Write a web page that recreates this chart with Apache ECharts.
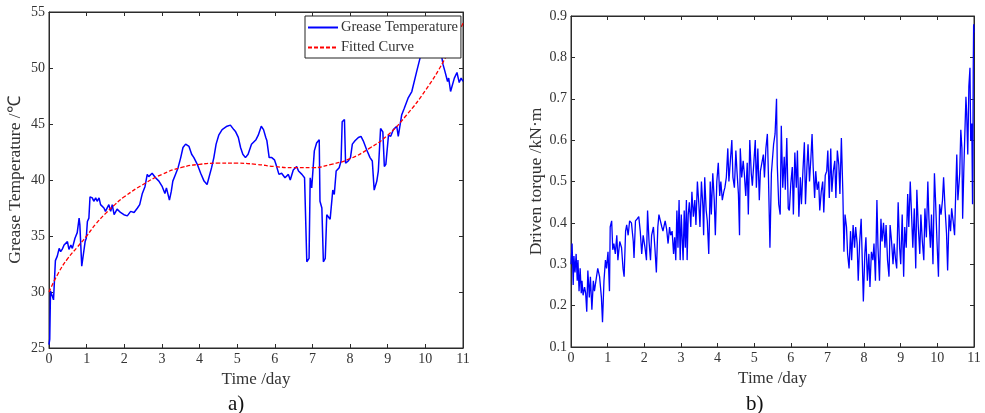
<!DOCTYPE html>
<html>
<head>
<meta charset="utf-8">
<script src="https://cdn.jsdelivr.net/npm/echarts@6/dist/echarts.min.js"></script>
<style>
  html, body { margin: 0; padding: 0; background: #fff; }
  #main { width: 985px; height: 413px; }
</style>
</head>
<body>
<div id="main"></div>
<script>
// a) grease temperature (day, ℃)
var tempDays = [0.00,0.02,0.04,0.09,0.12,0.17,0.22,0.27,0.31,0.35,0.40,0.44,0.49,0.53,0.58,0.62,0.69,0.75,0.80,0.82,0.87,0.90,0.96,0.99,
  1.02,1.06,1.09,1.15,1.19,1.24,1.28,1.33,1.37,1.46,1.50,1.59,1.64,1.68,1.73,1.81,1.90,1.99,2.08,2.17,2.26,2.35,2.41,2.48,2.55,2.61,2.65,2.74,2.83,2.92,
  3.01,3.08,3.12,3.20,3.25,3.29,3.36,3.43,3.50,3.56,3.63,3.72,3.79,3.85,3.94,4.03,4.12,4.20,4.25,4.32,4.38,4.44,4.51,4.60,4.73,4.82,4.91,4.96,
  5.03,5.09,5.15,5.22,5.29,5.38,5.44,5.50,5.56,5.64,5.70,5.76,5.79,5.85,5.92,5.99,6.03,6.11,6.18,6.27,6.36,6.41,6.49,6.58,6.63,6.72,6.79,6.82,6.85,6.91,6.94,6.98,
  7.05,7.11,7.18,7.20,7.25,7.29,7.34,7.38,7.47,7.54,7.58,7.63,7.71,7.76,7.79,7.85,7.88,7.95,8.01,8.06,8.13,8.22,8.29,8.35,8.44,8.53,8.59,8.64,8.71,8.75,8.81,8.87,8.91,8.95,
  9.02,9.08,9.15,9.24,9.28,9.37,9.44,9.54,9.64,9.77,9.86,9.95,10.10,10.25,10.38,10.43,10.47,10.52,10.59,10.62,10.67,10.70,10.77,10.84,10.90,10.95,11.00];
var tempValues = [25.3,25.8,30.1,30.0,29.3,32.8,33.2,33.9,33.6,33.8,34.2,34.1,34.5,33.8,34.2,33.9,34.8,35.3,36.6,36.0,32.3,32.4,34.5,34.8,
  36.3,36.6,38.5,38.4,38.1,38.4,38.1,38.4,37.8,37.5,37.2,37.8,37.2,37.8,36.9,37.4,37.1,36.9,36.8,37.2,37.1,37.5,37.8,38.8,39.4,40.5,40.3,40.6,40.2,39.9,
  39.4,38.8,39.3,38.2,39.0,39.9,40.5,41.1,42.0,42.9,43.2,43.0,42.3,42.0,41.4,40.6,39.9,39.6,39.7,41.1,42.0,43.2,44.0,44.5,44.8,44.9,44.5,44.3,
  43.8,42.9,42.3,42.0,42.3,43.2,43.4,43.6,44.0,44.8,44.5,43.8,43.5,42.0,42.0,41.8,41.4,40.5,40.6,40.2,40.5,40.0,40.9,41.2,40.8,40.5,40.2,40.3,32.7,33.0,40.2,39.3,
  42.6,43.3,43.6,38.1,37.5,32.7,33.0,36.9,36.5,39.1,38.7,40.8,41.1,41.7,45.2,45.4,41.5,41.7,42.0,43.2,43.5,43.8,43.9,43.5,42.7,42.0,41.7,39.1,39.9,40.8,44.6,44.3,41.2,41.4,
  44.0,43.9,44.5,44.8,43.9,45.8,46.4,47.3,47.9,49.7,50.9,51.8,52.4,52.8,52.0,51.1,50.3,49.7,48.8,49.1,47.9,47.8,49.1,49.6,48.7,49.1,48.8];

// a) fitted curve
var fitDays = [0,0.25,0.5,0.75,1,1.25,1.5,1.75,2,2.5,3,3.5,4,4.5,5,5.5,6,6.5,7,7.5,8,8.5,9,9.5,10,10.5,11];
var fitValues = [30.0,31.7,33.0,34.0,35.0,36.1,37.0,37.8,38.5,39.6,40.5,41.1,41.4,41.5,41.5,41.4,41.2,41.1,41.1,41.4,41.9,42.8,44.0,45.8,48.0,50.7,54.0];

// b) driven torque (day, kN·m)
var torqueDays = [0.00,0.03,0.06,0.08,0.11,0.14,0.17,0.19,0.22,0.25,0.28,0.30,0.33,0.37,0.40,0.43,0.46,0.50,0.53,0.57,0.61,0.64,0.68,0.73,0.78,0.83,0.86,0.90,0.94,0.97,
  1.01,1.05,1.07,1.11,1.14,1.17,1.21,1.25,1.28,1.33,1.38,1.42,1.45,1.49,1.52,1.56,1.60,1.65,1.70,1.72,1.76,1.81,1.85,1.89,1.93,1.97,
  2.02,2.06,2.09,2.13,2.17,2.20,2.25,2.29,2.33,2.37,2.40,2.44,2.48,2.51,2.57,2.61,2.65,2.69,2.72,2.76,2.80,2.83,2.86,2.89,2.92,2.95,2.98,
  3.01,3.04,3.06,3.09,3.12,3.15,3.17,3.20,3.23,3.27,3.30,3.34,3.38,3.41,3.45,3.49,3.52,3.56,3.60,3.62,3.65,3.69,3.72,3.76,3.80,3.83,3.87,3.91,3.94,3.98,
  4.02,4.06,4.09,4.13,4.17,4.20,4.24,4.28,4.31,4.35,4.39,4.42,4.46,4.50,4.53,4.57,4.60,4.62,4.66,4.70,4.73,4.77,4.81,4.84,4.88,4.92,4.95,4.99,
  5.03,5.06,5.10,5.14,5.17,5.21,5.25,5.28,5.32,5.36,5.39,5.43,5.47,5.53,5.57,5.61,5.63,5.67,5.71,5.74,5.78,5.82,5.85,5.89,5.93,5.96,
  6.00,6.04,6.07,6.11,6.15,6.18,6.22,6.26,6.29,6.33,6.37,6.40,6.44,6.47,6.51,6.55,6.58,6.61,6.65,6.68,6.72,6.76,6.79,6.83,6.87,6.90,6.94,6.98,
  7.01,7.05,7.09,7.12,7.16,7.20,7.23,7.27,7.31,7.34,7.38,7.42,7.45,7.48,7.52,7.55,7.59,7.63,7.66,7.70,7.74,7.77,7.81,7.84,7.88,7.92,7.95,7.98,
  8.02,8.05,8.09,8.13,8.16,8.20,8.24,8.27,8.31,8.35,8.38,8.42,8.46,8.49,8.53,8.57,8.60,8.64,8.68,8.71,8.75,8.79,8.82,8.86,8.89,8.93,8.97,
  9.00,9.04,9.08,9.11,9.15,9.19,9.22,9.26,9.30,9.33,9.37,9.41,9.44,9.48,9.52,9.55,9.59,9.63,9.66,9.70,9.74,9.77,9.81,9.84,9.88,9.92,9.95,9.99,
  10.03,10.06,10.10,10.14,10.17,10.21,10.25,10.28,10.32,10.36,10.39,10.43,10.47,10.50,10.53,10.56,10.58,10.61,10.64,10.67,10.69,10.72,10.75,10.78,10.80,10.83,10.86,10.89,10.91,10.94,10.96,10.97,10.98,10.99,11.00];
var torqueValues = [0.30,0.35,0.25,0.32,0.28,0.325,0.26,0.31,0.235,0.29,0.23,0.26,0.225,0.245,0.23,0.185,0.285,0.22,0.27,0.19,0.26,0.235,0.26,0.29,0.27,0.22,0.16,0.26,0.31,0.29,
  0.33,0.235,0.39,0.405,0.335,0.35,0.325,0.37,0.31,0.355,0.34,0.29,0.27,0.38,0.395,0.37,0.405,0.40,0.355,0.315,0.405,0.41,0.415,0.38,0.325,0.37,
  0.34,0.31,0.43,0.355,0.31,0.37,0.39,0.34,0.28,0.39,0.42,0.405,0.39,0.38,0.405,0.385,0.35,0.39,0.37,0.38,0.325,0.365,0.31,0.43,0.34,0.455,0.31,
  0.42,0.35,0.31,0.43,0.34,0.455,0.31,0.42,0.45,0.39,0.475,0.415,0.455,0.395,0.50,0.445,0.39,0.50,0.44,0.37,0.51,0.43,0.405,0.325,0.50,0.42,0.52,0.455,0.37,0.50,
  0.545,0.465,0.50,0.455,0.475,0.485,0.51,0.58,0.50,0.55,0.60,0.51,0.485,0.575,0.525,0.47,0.37,0.58,0.51,0.55,0.52,0.465,0.545,0.42,0.60,0.52,0.49,0.545,
  0.60,0.485,0.58,0.455,0.525,0.545,0.565,0.51,0.58,0.615,0.51,0.34,0.52,0.59,0.615,0.70,0.54,0.445,0.42,0.635,0.485,0.56,0.48,0.605,0.435,0.43,
  0.495,0.535,0.42,0.57,0.485,0.575,0.415,0.51,0.445,0.525,0.595,0.445,0.535,0.59,0.50,0.56,0.615,0.535,0.46,0.525,0.48,0.50,0.43,0.475,0.50,0.425,0.515,0.525,
  0.575,0.46,0.58,0.475,0.525,0.55,0.46,0.575,0.54,0.47,0.605,0.475,0.33,0.42,0.39,0.325,0.29,0.38,0.31,0.395,0.34,0.39,0.35,0.26,0.355,0.41,0.31,0.21,
  0.325,0.365,0.26,0.325,0.245,0.33,0.31,0.35,0.26,0.455,0.34,0.26,0.41,0.355,0.40,0.34,0.395,0.31,0.27,0.395,0.355,0.30,0.35,0.31,0.29,0.45,0.34,
  0.30,0.42,0.27,0.39,0.34,0.47,0.39,0.50,0.41,0.34,0.435,0.29,0.48,0.39,0.325,0.42,0.355,0.31,0.435,0.365,0.50,0.41,0.34,0.42,0.30,0.52,0.455,0.355,
  0.27,0.445,0.42,0.455,0.51,0.435,0.375,0.285,0.42,0.38,0.435,0.405,0.37,0.47,0.565,0.455,0.48,0.52,0.625,0.58,0.41,0.52,0.615,0.705,0.665,0.565,0.73,0.775,0.60,0.64,0.445,0.58,0.775,0.88,0.86];

var xTicks = [0,1,2,3,4,5,6,7,8,9,10,11];

function pairs(xs, ys) {
  return xs.map(function (x, i) { return [x, ys[i]]; });
}

var FONT = "'Liberation Serif', 'Times New Roman', serif";
var AXIS_COLOR = '#2b2b2b';
var TEXT_COLOR = '#333';

function xAxisOf(grid, pos) {
  var main = pos === 'bottom';
  return {
    gridIndex: grid, type: 'value', position: pos,
    min: xTicks[0], max: xTicks[xTicks.length - 1], interval: 1,
    axisLine: { show: true, onZero: false, lineStyle: { color: AXIS_COLOR, width: 1 } },
    axisTick: { show: true, inside: true, length: 4, lineStyle: { color: AXIS_COLOR } },
    axisLabel: { show: main, margin: 4, color: TEXT_COLOR, fontFamily: FONT, fontSize: 14 },
    splitLine: { show: false },
    name: main ? 'Time /day' : '',
    nameLocation: 'middle', nameGap: 20,
    nameTextStyle: { color: TEXT_COLOR, fontFamily: FONT, fontSize: 17 }
  };
}

function yAxisOf(grid, pos, min, max, step, name, gap, digits) {
  var main = pos === 'left';
  return {
    gridIndex: grid, type: 'value', position: pos,
    min: min, max: max, interval: step,
    axisLine: { show: true, onZero: false, lineStyle: { color: AXIS_COLOR, width: 1 } },
    axisTick: { show: true, inside: true, length: 4, lineStyle: { color: AXIS_COLOR } },
    axisLabel: {
      show: main, margin: 4, color: TEXT_COLOR, fontFamily: FONT, fontSize: 14,
      formatter: function (v) { return v.toFixed(digits); }
    },
    splitLine: { show: false },
    name: main ? name : '',
    nameLocation: 'middle', nameGap: gap,
    nameTextStyle: { color: TEXT_COLOR, fontFamily: FONT, fontSize: 17.5 }
  };
}

var chart = echarts.init(document.getElementById('main'));
chart.setOption({
  animation: false,
  backgroundColor: '#fff',
  grid: [
    { left: 49, top: 12, width: 414, height: 336, outerBoundsMode: 'none', containLabel: false,
      show: true, borderColor: AXIS_COLOR, borderWidth: 1 },
    { left: 571, top: 16, width: 403, height: 331, outerBoundsMode: 'none', containLabel: false,
      show: true, borderColor: AXIS_COLOR, borderWidth: 1 }
  ],
  xAxis: [xAxisOf(0, 'bottom'), xAxisOf(0, 'top'), xAxisOf(1, 'bottom'), xAxisOf(1, 'top')],
  yAxis: [
    yAxisOf(0, 'left', 25, 55, 5, 'Grease Temperature /℃', 25, 0),
    yAxisOf(0, 'right', 25, 55, 5, '', 0, 0),
    yAxisOf(1, 'left', 0.1, 0.9, 0.1, 'Driven torque /kN·m', 26, 1),
    yAxisOf(1, 'right', 0.1, 0.9, 0.1, '', 0, 1)
  ],
  legend: {
    data: ['Grease Temperature', 'Fitted Curve'],
    orient: 'vertical', left: 305, top: 16,
    backgroundColor: '#fff', borderColor: '#222', borderWidth: 1, borderRadius: 0,
    padding: [4, 3, 3, 2], itemGap: 5, itemWidth: 30, itemHeight: 12,
    itemStyle: { opacity: 0 },
    textStyle: { color: TEXT_COLOR, fontFamily: FONT, fontSize: 14.5, padding: [0, 0, 0, -2] }
  },
  graphic: [
    { type: 'text', left: 228, top: 394, style: { text: 'a)', font: '21px ' + FONT, fill: '#111' } },
    { type: 'text', left: 746, top: 394, style: { text: 'b)', font: '21px ' + FONT, fill: '#111' } }
  ],
  series: [
    {
      name: 'Grease Temperature', type: 'line', xAxisIndex: 0, yAxisIndex: 0,
      data: pairs(tempDays, tempValues), symbol: 'none', showSymbol: false,
      lineStyle: { color: '#0000ff', width: 1.5 }, itemStyle: { color: '#0000ff' }
    },
    {
      name: 'Fitted Curve', type: 'line', xAxisIndex: 0, yAxisIndex: 0, smooth: true,
      data: pairs(fitDays, fitValues), symbol: 'none', showSymbol: false,
      lineStyle: { color: '#ff0000', width: 1.3, type: [4, 2] }, itemStyle: { color: '#ff0000' }
    },
    {
      name: 'Driven torque', type: 'line', xAxisIndex: 2, yAxisIndex: 2,
      data: pairs(torqueDays, torqueValues), symbol: 'none', showSymbol: false,
      lineStyle: { color: '#0000ff', width: 1.3 }, itemStyle: { color: '#0000ff' }
    }
  ]
});
</script>
</body>
</html>
